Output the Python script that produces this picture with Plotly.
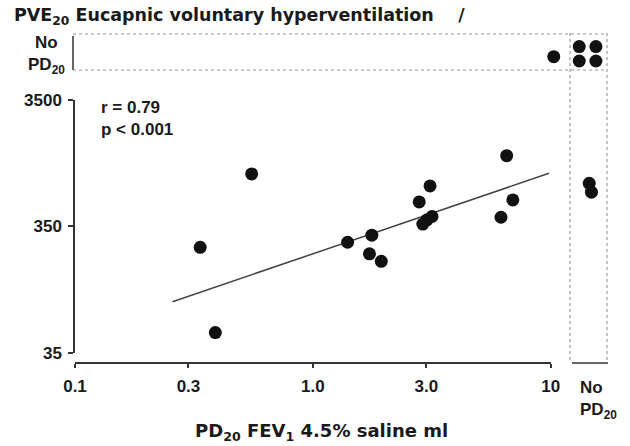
import plotly.graph_objects as go
import math

# ---- data ----
# main panel: PD20 FEV1 4.5% saline (ml) vs PVE20 (l)
pd20_saline = [0.553, 0.336, 0.389, 1.40, 1.77, 1.73, 1.94, 2.80, 2.90, 3.02, 3.17, 3.11, 6.18, 6.53, 6.93]
pve20 = [910, 239, 50.5, 262, 298, 212, 185, 546, 365, 394, 419, 731, 413, 1268, 566]

# subjects with no PD20 for saline (column at right): PVE20 values
nopd_saline_pve = [767, 652]
nopd_saline_jitter = [0.52, 0.58]

# subjects with no PD20 for EVH (top row): saline PD20 values
nopd_evh_saline = [10.3]
nopd_evh_jitter = [0.37]

# subjects with no PD20 for either test (top-right corner)
both_jitter_x = [0.25, 0.70, 0.25, 0.70]
both_jitter_y = [0.65, 0.65, 0.25, 0.25]

# regression line end points
reg_x = [0.257, 9.84]
reg_y = [88.7, 920]

x_tickvals = [0.1, 0.3, 1.0, 3.0, 10]
x_ticktext = ["0.1", "0.3", "1.0", "3.0", "10"]
y_tickvals = [35, 350, 3500]
y_ticktext = ["35", "350", "3500"]

W, H = 630, 446
def px(x):
    return x / W
def py(y):
    return 1 - y / H

FONT = "Liberation Sans, Arial, Helvetica, sans-serif"
WIDE = "DejaVu Sans, Verdana, sans-serif"
DOT = dict(color="#111111", size=13)
AX = "#333333"

# main x scale: 0.1 at 75 px, 10 at 550.7 px; top row axis shares that scale but extends a bit
X0, X1 = 75, 550.7
DEC = (X1 - X0) / 2.0
X2_END = 562
x2_range = [-1, -1 + (X2_END - X0) / DEC]

fig = go.Figure()
fig.add_trace(go.Scatter(x=reg_x, y=reg_y, mode="lines", line=dict(color="#444444", width=1.5),
                         xaxis="x", yaxis="y", hoverinfo="skip"))
fig.add_trace(go.Scatter(x=pd20_saline, y=pve20, mode="markers", marker=DOT, xaxis="x", yaxis="y"))
fig.add_trace(go.Scatter(x=nopd_saline_jitter, y=nopd_saline_pve, mode="markers", marker=DOT, xaxis="x3", yaxis="y"))
fig.add_trace(go.Scatter(x=nopd_evh_saline, y=nopd_evh_jitter, mode="markers", marker=DOT, xaxis="x2", yaxis="y2",
                         cliponaxis=False))
fig.add_trace(go.Scatter(x=both_jitter_x, y=both_jitter_y, mode="markers", marker=DOT, xaxis="x3", yaxis="y2",
                         cliponaxis=False))

fig.update_layout(
    width=W, height=H,
    template="none",
    margin=dict(l=0, r=0, t=0, b=0, pad=0),
    paper_bgcolor="white", plot_bgcolor="white",
    showlegend=False,
    font=dict(family=FONT, color="#1a1a1a", size=17),
    xaxis=dict(type="log", range=[-1, 1], domain=[px(X0), px(X1)], anchor="free", position=py(363),
               automargin=False,
               showline=True, linecolor=AX, linewidth=1.5, showgrid=False, zeroline=False,
               ticks="outside", ticklen=4, tickcolor=AX, tickwidth=1.5, ticklabelstandoff=4,
               tickvals=x_tickvals, ticktext=x_ticktext, tickfont=dict(size=17, weight="bold")),
    yaxis=dict(type="log", range=[math.log10(35), math.log10(3500)], domain=[py(352.7), py(100)], anchor="x",
               automargin=False,
               showline=True, linecolor=AX, linewidth=1.5, showgrid=False, zeroline=False,
               ticks="outside", ticklen=5, tickcolor=AX, tickwidth=1.5, ticklabelstandoff=3,
               tickvals=y_tickvals, ticktext=y_ticktext, tickfont=dict(size=17, weight="bold")),
    xaxis2=dict(type="log", range=x2_range, domain=[px(X0), px(X2_END)], visible=False, anchor="y2",
                automargin=False),
    yaxis2=dict(domain=[py(70), py(34)], range=[0, 1], visible=False, anchor="x2", automargin=False),
    xaxis3=dict(domain=[px(570), px(607)], range=[0, 1], visible=False, anchor="y", automargin=False),
)

dotted = dict(color="#9a9a9a", width=1.2, dash="dot")
solid = dict(color=AX, width=1.5)
shapes = [
    dict(type="line", xref="paper", yref="paper", x0=px(73), x1=px(607), y0=py(34), y1=py(34), line=dotted),
    dict(type="line", xref="paper", yref="paper", x0=px(73), x1=px(607), y0=py(70), y1=py(70), line=dotted),
    dict(type="line", xref="paper", yref="paper", x0=px(570), x1=px(570), y0=py(33), y1=py(362), line=dotted),
    dict(type="line", xref="paper", yref="paper", x0=px(607), x1=px(607), y0=py(33), y1=py(362), line=dotted),
    dict(type="line", xref="paper", yref="paper", x0=px(73), x1=px(73), y0=py(36), y1=py(70), line=solid),
    dict(type="line", xref="paper", yref="paper", x0=px(572), x1=px(608), y0=py(363), y1=py(363), line=solid),
]
fig.update_layout(shapes=shapes)

ann = [
    dict(text="<b>PVE<sub>20</sub> Eucapnic voluntary hyperventilation\u00a0\u00a0\u00a0\u00a0/</b>",
         x=px(12), y=py(3), xanchor="left", yanchor="top", font=dict(size=17.5, family=WIDE)),
    dict(text="<b>No<br>PD<sub>20</sub></b>", x=px(67), y=py(31), xanchor="right", yanchor="top",
         align="center", font=dict(size=17)),
    dict(text="<b>r = 0.79<br>p < 0.001</b>", x=px(99), y=py(96), xanchor="left", yanchor="top",
         align="left", font=dict(size=17)),
    dict(text="<b>No<br>PD<sub>20</sub></b>", x=px(578), y=py(376), xanchor="left", yanchor="top",
         align="left", font=dict(size=17)),
    dict(text="<b>PD<sub>20</sub> FEV<sub>1</sub> 4.5% saline ml</b>", x=px(321), y=py(418),
         xanchor="center", yanchor="top", font=dict(size=18, family=WIDE)),
]
for a in ann:
    a.update(xref="paper", yref="paper", showarrow=False)
fig.update_layout(annotations=ann)

fig.write_html("out.html")
